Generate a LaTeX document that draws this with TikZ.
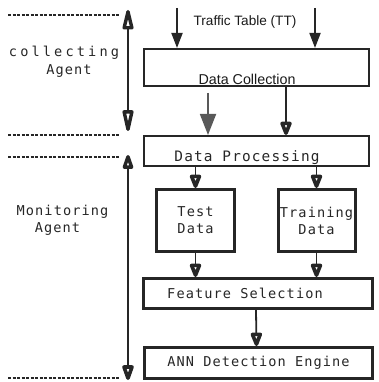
\documentclass[tikz,border=0pt]{standalone}
\usepackage{fontspec}
\setmainfont{Liberation Sans}
\newfontfamily\monof[LetterSpace=8]{DejaVu Sans Mono}
\newfontfamily\monowide[LetterSpace=23]{DejaVu Sans Mono}
\usetikzlibrary{arrows.meta}
\begin{document}
\begin{tikzpicture}[x=1pt,y=-1pt,
  box/.style={draw=black!85, line width=2pt, inner sep=0pt},
  bbox/.style={box, line width=3pt},
  mono/.style={font=\monof\fontsize{13.6}{17}\selectfont, text=black!85, inner sep=0pt, align=center},
  sanslbl/.style={font=\fontsize{14.3}{17}\selectfont, text=black!90, inner sep=0pt},
  conn/.style={line width=1.8pt, draw=black!85},
  blackhead/.style={-{Triangle[length=15pt, width=11pt]}},
  grayhead/.style={draw=black!65, -{Triangle[length=21pt, width=16pt]}},
  openhead/.style={-{Triangle[open, length=17pt, width=12pt, line width=3.6pt, round]}},
  longboth/.style={{Triangle[open, length=26pt, width=11pt, line width=3.4pt, round]}-{Triangle[open, length=28pt, width=11pt, line width=3.4pt, round]}},
  shortboth/.style={{Triangle[open, length=18pt, width=11pt, line width=3.4pt, round]}-{Triangle[open, length=19pt, width=12pt, line width=3.6pt, round]}},
  sep/.style={line width=2pt, draw=black!85, dash pattern=on 3pt off 1.5pt}
]
\useasboundingbox (0,0) rectangle (379,382);

% boxes
\node[box, minimum width=225pt, minimum height=37pt] (dc) at (256.5,67.5) {};
\node[box, minimum width=225pt, minimum height=30pt] (dp) at (256.5,151) {};
\node[bbox, mono, minimum width=78pt, minimum height=62pt] (test) at (195.5,220.5) {Test\\Data};
\node[bbox, mono, minimum width=77pt, minimum height=62pt] (train) at (316.5,220.5) {Training\\Data};
\node[bbox, minimum width=229pt, minimum height=30pt] (feat) at (258,293.5) {};
\node[bbox, mono, minimum width=228pt, minimum height=31pt] (ann) at (258.5,363) {ANN Detection Engine};

% box texts
\node[sanslbl] (dctext) at (247,79) {Data Collection};
\node[mono, font=\monof\fontsize{14.4}{17}\selectfont] (dptext) at (247,158) {Data Processing};
\node[mono] (feattext) at (245,293) {Feature Selection};
\node[sanslbl, font=\fontsize{13.6}{16}\selectfont] (tt) at (245,22) {Traffic Table (TT)};

% left labels
\node[mono, font=\monowide\fontsize{13.6}{17}\selectfont] (coll) at (64,53) {collecting};
\node[mono] (agent1) at (69,71) {Agent};
\node[mono] (monit) at (62.5,212) {Monitoring};
\node[mono] (agent2) at (57.5,229) {Agent};

% separators
\coordinate (d1a) at (8,15);   \coordinate (d1b) at (120,15);
\coordinate (d2a) at (8,135);  \coordinate (d2b) at (120,135);
\coordinate (d3a) at (8,157);  \coordinate (d3b) at (120,157);
\coordinate (d4a) at (8,378);  \coordinate (d4b) at (120,378);
\draw[sep] (d1a) -- (d1b);
\draw[sep] (d2a) -- (d2b);
\draw[sep] (d3a) -- (d3b);
\draw[sep] (d4a) -- (d4b);

% agent extents
\coordinate (a1t) at (128,10);  \coordinate (a1b) at (128,131);
\coordinate (a2t) at (128,155); \coordinate (a2b) at (128,380);
\draw[conn, longboth] (a1t) -- (a1b);
\draw[conn, shortboth] (a2t) -- (a2b);

% traffic input arrows
\coordinate (in1) at (177,8);
\coordinate (in2) at (315,8);
\draw[conn, blackhead] (in1) -- (dc.north -| in1);
\draw[conn, blackhead] (in2) -- (dc.north -| in2);

% flow arrows
\draw[conn, grayhead] ([xshift=-48.5pt, yshift=-6pt]dc.south) -- ([xshift=-48.5pt]dp.north);
\draw[conn, openhead] ([xshift=29.5pt]dc.south) -- ([xshift=29.5pt]dp.north);
\draw[conn, openhead] (dp.south -| test) -- (test.north -| test);
\draw[conn, openhead] (dp.south -| train) -- (train.north);
\draw[conn, openhead] (test.south) -- (feat.north -| test);
\draw[conn, openhead] (train.south) -- (feat.north -| train);
\draw[conn, openhead] ([xshift=-2pt]feat.south) -- ([xshift=-2pt]ann.north);
\end{tikzpicture}
\end{document}
